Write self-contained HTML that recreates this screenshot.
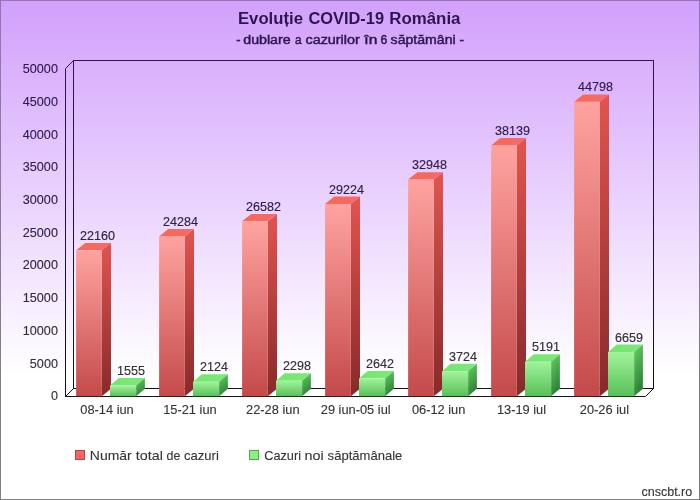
<!DOCTYPE html>
<html lang="ro"><head><meta charset="utf-8"><title>Evoluție COVID-19 România</title>
<style>
html,body{margin:0;padding:0;background:#fff;}
body{width:700px;height:500px;overflow:hidden;}
svg{display:block;}
text{font-family:"Liberation Sans",sans-serif;stroke-width:0.1px;}
.ax{font-size:12px;}
.dl{font-size:12.2px;stroke-width:0.15px;}
.ttl{font-size:16px;font-weight:bold;stroke-width:0;}
.sub{font-size:12.3px;stroke-width:0.45px;}
.lg{font-size:13px;}
.cr{font-size:12.2px;}
</style></head><body>
<svg width="700" height="500" viewBox="0 0 700 500">
<defs>
<linearGradient id="bg" x1="0" y1="0" x2="0" y2="1"><stop offset="0" stop-color="#d2a0fc"/><stop offset="0.75" stop-color="#ffffff"/><stop offset="1" stop-color="#ffffff"/></linearGradient>
<linearGradient id="rf" x1="0" y1="0" x2="0" y2="1"><stop offset="0" stop-color="#ffa3a0"/><stop offset="1" stop-color="#c44a4a"/></linearGradient>
<linearGradient id="rs" x1="0" y1="0" x2="0" y2="1"><stop offset="0" stop-color="#e2544f"/><stop offset="1" stop-color="#862a2a"/></linearGradient>
<linearGradient id="rt" x1="0" y1="0" x2="1" y2="0"><stop offset="0" stop-color="#f9684f"/><stop offset="1" stop-color="#f56a6c"/></linearGradient>
<linearGradient id="gf" x1="0" y1="0" x2="0" y2="1"><stop offset="0" stop-color="#a2f39c"/><stop offset="1" stop-color="#58c058"/></linearGradient>
<linearGradient id="gs" x1="0" y1="0" x2="0.3" y2="1"><stop offset="0" stop-color="#62d260"/><stop offset="1" stop-color="#2f7f39"/></linearGradient>
<linearGradient id="gt" x1="0" y1="0" x2="1" y2="0"><stop offset="0" stop-color="#74e66c"/><stop offset="1" stop-color="#7ce87c"/></linearGradient>
<linearGradient id="ln" gradientUnits="userSpaceOnUse" x1="0" y1="60" x2="0" y2="397"><stop offset="0" stop-color="#2e1458"/><stop offset="1" stop-color="#121214"/></linearGradient>
<linearGradient id="bd" gradientUnits="userSpaceOnUse" x1="0" y1="0" x2="0" y2="400"><stop offset="0" stop-color="#9278ae"/><stop offset="1" stop-color="#808080"/></linearGradient>
</defs>
<rect x="0" y="0" width="700" height="500" fill="url(#bg)"/>
<rect x="0.5" y="0.5" width="699" height="499" fill="none" stroke="url(#bd)" stroke-width="1"/>
<polygon points="65.5,396.5 645.5,396.5 653.5,388.5 73.5,388.5" fill="#ffffff" stroke="url(#ln)" stroke-width="1"/>
<rect x="73.5" y="60.5" width="580" height="328" fill="none" stroke="url(#ln)" stroke-width="1"/>
<polygon points="65.5,396.5 65.5,68.5 73.5,60.5 73.5,388.5" fill="none" stroke="url(#ln)" stroke-width="1"/>
<polygon points="76.1,250.33 101.8,250.33 111,242.93 85.3,242.93" fill="url(#rt)"/><polygon points="101.8,250.33 111,242.93 111,388.8 101.8,396.2" fill="url(#rs)"/><rect x="76.1" y="250.33" width="25.7" height="145.87" fill="url(#rf)"/>
<polygon points="110,385.5 136.1,385.5 144.9,378.1 118.8,378.1" fill="url(#gt)"/><polygon points="136.1,385.5 144.9,378.1 144.9,388.8 136.1,396.2" fill="url(#gs)"/><rect x="110" y="385.5" width="26.1" height="10.7" fill="url(#gf)"/>
<polygon points="159.1,236.4 184.8,236.4 194,229 168.3,229" fill="url(#rt)"/><polygon points="184.8,236.4 194,229 194,388.8 184.8,396.2" fill="url(#rs)"/><rect x="159.1" y="236.4" width="25.7" height="159.8" fill="url(#rf)"/>
<polygon points="193,381.77 219.1,381.77 227.9,374.37 201.8,374.37" fill="url(#gt)"/><polygon points="219.1,381.77 227.9,374.37 227.9,388.8 219.1,396.2" fill="url(#gs)"/><rect x="193" y="381.77" width="26.1" height="14.43" fill="url(#gf)"/>
<polygon points="242.1,221.32 267.8,221.32 277,213.92 251.3,213.92" fill="url(#rt)"/><polygon points="267.8,221.32 277,213.92 277,388.8 267.8,396.2" fill="url(#rs)"/><rect x="242.1" y="221.32" width="25.7" height="174.88" fill="url(#rf)"/>
<polygon points="276,380.63 302.1,380.63 310.9,373.23 284.8,373.23" fill="url(#gt)"/><polygon points="302.1,380.63 310.9,373.23 310.9,388.8 302.1,396.2" fill="url(#gs)"/><rect x="276" y="380.63" width="26.1" height="15.57" fill="url(#gf)"/>
<polygon points="325.1,203.99 350.8,203.99 360,196.59 334.3,196.59" fill="url(#rt)"/><polygon points="350.8,203.99 360,196.59 360,388.8 350.8,396.2" fill="url(#rs)"/><rect x="325.1" y="203.99" width="25.7" height="192.21" fill="url(#rf)"/>
<polygon points="359,378.37 385.1,378.37 393.9,370.97 367.8,370.97" fill="url(#gt)"/><polygon points="385.1,378.37 393.9,370.97 393.9,388.8 385.1,396.2" fill="url(#gs)"/><rect x="359" y="378.37" width="26.1" height="17.83" fill="url(#gf)"/>
<polygon points="408.1,179.56 433.8,179.56 443,172.16 417.3,172.16" fill="url(#rt)"/><polygon points="433.8,179.56 443,172.16 443,388.8 433.8,396.2" fill="url(#rs)"/><rect x="408.1" y="179.56" width="25.7" height="216.64" fill="url(#rf)"/>
<polygon points="442,371.27 468.1,371.27 476.9,363.87 450.8,363.87" fill="url(#gt)"/><polygon points="468.1,371.27 476.9,363.87 476.9,388.8 468.1,396.2" fill="url(#gs)"/><rect x="442" y="371.27" width="26.1" height="24.93" fill="url(#gf)"/>
<polygon points="491.1,145.51 516.8,145.51 526,138.11 500.3,138.11" fill="url(#rt)"/><polygon points="516.8,145.51 526,138.11 526,388.8 516.8,396.2" fill="url(#rs)"/><rect x="491.1" y="145.51" width="25.7" height="250.69" fill="url(#rf)"/>
<polygon points="525,361.65 551.1,361.65 559.9,354.25 533.8,354.25" fill="url(#gt)"/><polygon points="551.1,361.65 559.9,354.25 559.9,388.8 551.1,396.2" fill="url(#gs)"/><rect x="525" y="361.65" width="26.1" height="34.55" fill="url(#gf)"/>
<polygon points="574.1,101.83 599.8,101.83 609,94.43 583.3,94.43" fill="url(#rt)"/><polygon points="599.8,101.83 609,94.43 609,388.8 599.8,396.2" fill="url(#rs)"/><rect x="574.1" y="101.83" width="25.7" height="294.37" fill="url(#rf)"/>
<polygon points="608,352.02 634.1,352.02 642.9,344.62 616.8,344.62" fill="url(#gt)"/><polygon points="634.1,352.02 642.9,344.62 642.9,388.8 634.1,396.2" fill="url(#gs)"/><rect x="608" y="352.02" width="26.1" height="44.18" fill="url(#gf)"/>
<text class="dl" transform="translate(97.5 239.93) scale(1.03 1)" text-anchor="middle" fill="#2f2344" stroke="#2f2344">22160</text>
<text class="dl" transform="translate(130.9 375) scale(1.03 1)" text-anchor="middle" fill="#323037" stroke="#323037">1555</text>
<text class="dl" transform="translate(180.5 226) scale(1.03 1)" text-anchor="middle" fill="#2f2245" stroke="#2f2245">24284</text>
<text class="dl" transform="translate(213.9 371.27) scale(1.03 1)" text-anchor="middle" fill="#323037" stroke="#323037">2124</text>
<text class="dl" transform="translate(263.5 210.92) scale(1.03 1)" text-anchor="middle" fill="#2f2046" stroke="#2f2046">26582</text>
<text class="dl" transform="translate(296.9 370.13) scale(1.03 1)" text-anchor="middle" fill="#323037" stroke="#323037">2298</text>
<text class="dl" transform="translate(346.5 193.59) scale(1.03 1)" text-anchor="middle" fill="#2e1f47" stroke="#2e1f47">29224</text>
<text class="dl" transform="translate(379.9 367.87) scale(1.03 1)" text-anchor="middle" fill="#322f38" stroke="#322f38">2642</text>
<text class="dl" transform="translate(429.5 169.16) scale(1.03 1)" text-anchor="middle" fill="#2e1d49" stroke="#2e1d49">32948</text>
<text class="dl" transform="translate(462.9 360.77) scale(1.03 1)" text-anchor="middle" fill="#322f38" stroke="#322f38">3724</text>
<text class="dl" transform="translate(512.5 135.11) scale(1.03 1)" text-anchor="middle" fill="#2d1b4b" stroke="#2d1b4b">38139</text>
<text class="dl" transform="translate(545.9 351.15) scale(1.03 1)" text-anchor="middle" fill="#322e39" stroke="#322e39">5191</text>
<text class="dl" transform="translate(595.5 91.43) scale(1.03 1)" text-anchor="middle" fill="#2d194d" stroke="#2d194d">44798</text>
<text class="dl" transform="translate(628.9 341.52) scale(1.03 1)" text-anchor="middle" fill="#312d3a" stroke="#312d3a">6659</text>
<text class="ax" transform="translate(57.9 400.35) scale(1.052 1)" text-anchor="end" fill="#333334" stroke="#333334">0</text>
<text class="ax" transform="translate(57.9 367.62) scale(1.052 1)" text-anchor="end" fill="#322f38" stroke="#322f38">5000</text>
<text class="ax" transform="translate(57.9 334.89) scale(1.052 1)" text-anchor="end" fill="#312c3b" stroke="#312c3b">10000</text>
<text class="ax" transform="translate(57.9 302.16) scale(1.052 1)" text-anchor="end" fill="#30293e" stroke="#30293e">15000</text>
<text class="ax" transform="translate(57.9 269.43) scale(1.052 1)" text-anchor="end" fill="#302541" stroke="#302541">20000</text>
<text class="ax" transform="translate(57.9 236.7) scale(1.052 1)" text-anchor="end" fill="#2f2344" stroke="#2f2344">25000</text>
<text class="ax" transform="translate(57.9 203.97) scale(1.052 1)" text-anchor="end" fill="#2e2046" stroke="#2e2046">30000</text>
<text class="ax" transform="translate(57.9 171.24) scale(1.052 1)" text-anchor="end" fill="#2e1d49" stroke="#2e1d49">35000</text>
<text class="ax" transform="translate(57.9 138.51) scale(1.052 1)" text-anchor="end" fill="#2d1b4b" stroke="#2d1b4b">40000</text>
<text class="ax" transform="translate(57.9 105.78) scale(1.052 1)" text-anchor="end" fill="#2d194d" stroke="#2d194d">45000</text>
<text class="ax" transform="translate(57.9 73.05) scale(1.052 1)" text-anchor="end" fill="#2c184e" stroke="#2c184e">50000</text>
<text class="ax" transform="translate(107 414.4) scale(1.07 1)" text-anchor="middle" fill="#333334" stroke="#333334">08-14 iun</text>
<text class="ax" transform="translate(189.9 414.4) scale(1.07 1)" text-anchor="middle" fill="#333334" stroke="#333334">15-21 iun</text>
<text class="ax" transform="translate(272.8 414.4) scale(1.07 1)" text-anchor="middle" fill="#333334" stroke="#333334">22-28 iun</text>
<text class="ax" transform="translate(355.7 414.4) scale(1.07 1)" text-anchor="middle" fill="#333334" stroke="#333334">29 iun-05 iul</text>
<text class="ax" transform="translate(438.6 414.4) scale(1.07 1)" text-anchor="middle" fill="#333334" stroke="#333334">06-12 iun</text>
<text class="ax" transform="translate(521.5 414.4) scale(1.07 1)" text-anchor="middle" fill="#333334" stroke="#333334">13-19 iul</text>
<text class="ax" transform="translate(604.4 414.4) scale(1.07 1)" text-anchor="middle" fill="#333334" stroke="#333334">20-26 iul</text>
<text class="ttl" y="23.5" fill="#2c1650" stroke="#2c1650"><tspan x="237.98" textLength="64.98" lengthAdjust="spacingAndGlyphs">Evoluție</tspan> <tspan x="308.41" textLength="75.6" lengthAdjust="spacingAndGlyphs">COVID-19</tspan> <tspan x="389.26" textLength="71.24" lengthAdjust="spacingAndGlyphs">România</tspan></text>
<text class="sub" y="43.7" fill="#2c174f" stroke="#2c174f"><tspan x="236.23" textLength="4.25" lengthAdjust="spacingAndGlyphs">-</tspan> <tspan x="243.27" textLength="47.39" lengthAdjust="spacingAndGlyphs">dublare</tspan> <tspan x="295.07" textLength="6.55" lengthAdjust="spacingAndGlyphs">a</tspan> <tspan x="305.47" textLength="54.24" lengthAdjust="spacingAndGlyphs">cazurilor</tspan> <tspan x="364.37" textLength="12.95" lengthAdjust="spacingAndGlyphs">în</tspan> <tspan x="380.53" textLength="6.81" lengthAdjust="spacingAndGlyphs">6</tspan> <tspan x="390.62" textLength="65.03" lengthAdjust="spacingAndGlyphs">săptămâni</tspan> <tspan x="459.6" textLength="4.52" lengthAdjust="spacingAndGlyphs">-</tspan></text>
<rect x="75.5" y="450.5" width="9" height="9" fill="#fc6262" stroke="#a8484c" stroke-width="1"/>
<text class="lg" y="459.9" fill="#333334" stroke="#333334"><tspan x="89.89" textLength="41.89" lengthAdjust="spacingAndGlyphs">Număr</tspan> <tspan x="135.83" textLength="26.98" lengthAdjust="spacingAndGlyphs">total</tspan> <tspan x="166.62" textLength="13.85" lengthAdjust="spacingAndGlyphs">de</tspan> <tspan x="184" textLength="34.84" lengthAdjust="spacingAndGlyphs">cazuri</tspan></text>
<rect x="249.5" y="450.5" width="9" height="9" fill="#82f67c" stroke="#5aa05a" stroke-width="1"/>
<text class="lg" y="459.9" fill="#333334" stroke="#333334"><tspan x="264.19" textLength="36.82" lengthAdjust="spacingAndGlyphs">Cazuri</tspan> <tspan x="304.54" textLength="19.11" lengthAdjust="spacingAndGlyphs">noi</tspan> <tspan x="327.62" textLength="74.76" lengthAdjust="spacingAndGlyphs">săptămânale</tspan></text>
<text class="cr" transform="translate(692.2 495.9) scale(1.025 1)" text-anchor="end" fill="#333334" stroke="#333334">cnscbt.ro</text>
</svg></body></html>
